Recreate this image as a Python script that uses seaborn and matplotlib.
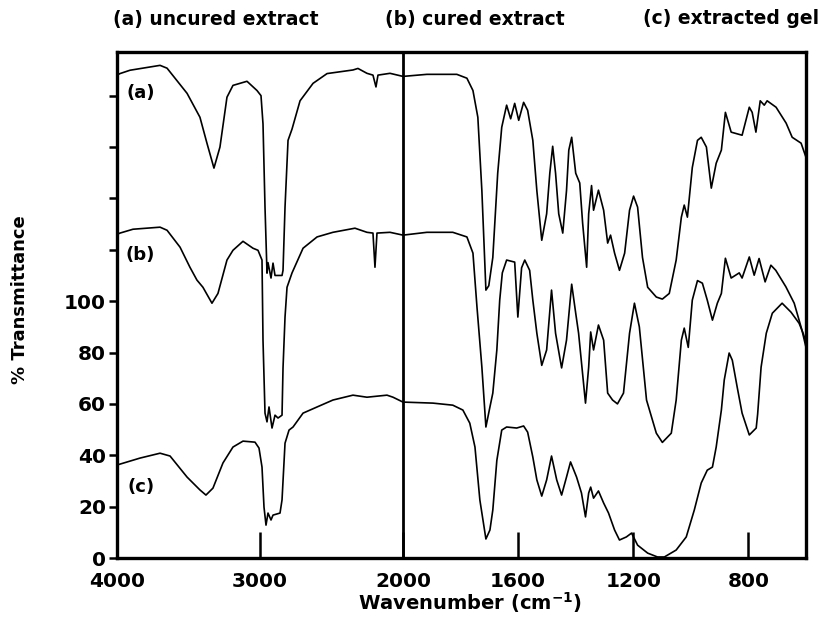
import numpy as np
import pandas as pd
import matplotlib
matplotlib.use("Agg")
import matplotlib.pyplot as plt
import seaborn as sns

# ---------------- data ----------------
a_wn = [4000, 3979, 3909, 3699, 3650, 3510, 3420, 3371, 3322, 3280, 3231, 3189, 3091, 3021,
        2993, 2979, 2965, 2951, 2944, 2923, 2909, 2895, 2846, 2839, 2825, 2804, 2776, 2720,
        2629, 2531, 2350, 2315, 2252, 2210, 2189, 2175, 2091, 2000, 1917, 1813, 1778, 1757,
        1740, 1726, 1712, 1702, 1688, 1671, 1657, 1640, 1626, 1612, 1598, 1581, 1567, 1549,
        1535, 1518, 1501, 1490, 1480, 1470, 1459, 1445, 1432, 1424, 1414, 1400, 1386, 1376,
        1362, 1355, 1345, 1338, 1321, 1303, 1289, 1279, 1265, 1248, 1230, 1213, 1199, 1185,
        1168, 1150, 1120, 1099, 1075, 1051, 1033, 1023, 1012, 995, 977, 964, 946, 929, 912,
        894, 880, 860, 822, 797, 787, 774, 759, 745, 735, 704, 669, 648, 617, 600]
a_val = [188, 188.6, 189.9, 191.8, 190.7, 180.9, 171.6, 161.5, 151.8, 160, 179.4, 184, 185.6, 182,
         180, 169, 136.6, 110.9, 115, 109, 114.8, 110, 110, 112, 136.6, 162.6, 167, 178,
         184.8, 188.6, 190, 190.6, 188.7, 188, 183.4, 188, 188.7, 187.5, 188.3, 188.3, 186.8, 182,
         171.6, 143, 104.3, 106, 117, 149.8, 167.7, 176.3, 171, 177, 170.4, 177.4, 174.3, 162.6,
         143, 123.7, 134, 149.8, 160.3, 149.8, 134, 126.5, 143, 158.8, 163.8, 149.8, 146, 130.4,
         113.2, 134, 145, 135.4, 143.2, 135.4, 122.6, 125.7, 118.7, 112, 118.7, 135.4, 140.9, 136.6,
         117, 105.4, 101.6, 100.8, 103, 116, 132.7, 137.4, 132.7, 152, 162.6, 163.8, 160, 144, 153.7,
         158.8, 173.5, 165.8, 164.6, 175.5, 173.5, 165.8, 178, 176.3, 178, 175.5, 169.3, 163.8, 161.5, 156]

b_wn = [4000, 3979, 3888, 3699, 3650, 3559, 3490, 3441, 3399, 3336, 3294, 3231, 3189, 3119,
        3049, 3014, 2986, 2979, 2965, 2951, 2937, 2916, 2895, 2874, 2846, 2839, 2825, 2811,
        2776, 2699, 2601, 2490, 2336, 2252, 2210, 2196, 2182, 2091, 2000, 1917, 1827, 1778,
        1757, 1743, 1726, 1712, 1698, 1688, 1674, 1664, 1655, 1640, 1612, 1601, 1588, 1577,
        1560, 1549, 1535, 1518, 1501, 1484, 1470, 1449, 1432, 1414, 1400, 1390, 1366, 1355,
        1348, 1338, 1321, 1303, 1289, 1272, 1255, 1234, 1213, 1196, 1179, 1154, 1120, 1099,
        1068, 1051, 1033, 1023, 1009, 995, 977, 960, 943, 925, 908, 894, 880, 860, 832, 822,
        797, 780, 763, 742, 722, 705, 670, 641, 614, 600]
b_val = [126, 126.5, 128, 128.8, 127.6, 121, 113.2, 108.2, 105.4, 99.2, 103, 116, 119.8, 123.3,
         120.6, 119.8, 116, 84.8, 56.4, 53, 58.8, 50.6, 55.6, 54.5, 55.6, 74, 93.8, 105.4,
         111, 120.6, 125, 126.8, 128.4, 126.8, 126.5, 113.2, 126.5, 126.8, 125.7, 126.8, 126.8, 125,
         118.7, 97.7, 74.3, 51, 58.8, 64.2, 81, 100.4, 111, 116, 115.2, 93.8, 113, 116,
         112, 100.4, 87.5, 75, 81, 104.3, 87.5, 74, 84.8, 106.6, 95.3, 87.5, 60.3, 74.3,
         88, 81, 90.7, 84.8, 64.2, 61.5, 60, 64.2, 87.5, 99.2, 90, 61.5, 48.6, 45,
         48.6, 61.5, 84.8, 89.5, 82, 100.4, 108, 107, 100.4, 92.6, 99.2, 103, 116.7, 109, 111, 109,
         117.2, 110.1, 116.6, 107.5, 114, 112, 105.6, 99.2, 88.7, 82]

c_wn = [4000, 3839, 3699, 3629, 3510, 3420, 3378, 3329, 3259, 3189, 3119, 3035, 3007, 2986,
        2972, 2958, 2944, 2923, 2909, 2860, 2846, 2825, 2797, 2769, 2699, 2601, 2490, 2350,
        2252, 2112, 2070, 2000, 1896, 1827, 1792, 1768, 1750, 1733, 1712, 1698, 1688, 1674,
        1657, 1640, 1605, 1581, 1567, 1549, 1535, 1518, 1501, 1484, 1466, 1449, 1432, 1418,
        1397, 1380, 1366, 1355, 1348, 1338, 1321, 1303, 1286, 1265, 1248, 1224, 1206, 1185,
        1150, 1116, 1092, 1051, 1016, 988, 964, 943, 925, 912, 894, 884, 867, 856, 839, 822,
        797, 773, 768, 756, 738, 717, 683, 652, 624, 610, 600]
c_val = [36.2, 38.9, 40.8, 39.7, 31.5, 26.5, 24.5, 27.2, 37, 43.2, 45.5, 45.1, 42.8, 35.4,
         19.8, 12.8, 17.5, 14.8, 16.7, 17.5, 22.6, 44.7, 49.8, 51, 56.4, 58.8, 61.5, 63.4,
         62.6, 63.4, 62.6, 60.7, 60.3, 59.5, 57.6, 52.5, 43.2, 22.6, 7.4, 10.9, 18.7, 38,
         49.8, 51, 50.6, 51.4, 49, 39.3, 30.4, 24.1, 30.4, 39.7, 30.4, 24.5, 31.5, 37.4,
         31.5, 25.3, 16, 25.3, 27.6, 23.3, 26.1, 21.4, 17.5, 10.9, 7, 8.2, 9.7, 5,
         1.9, 0.4, 0.4, 3.1, 8.2, 18.7, 29.2, 34.2, 35.4, 43.2, 57.6, 69.3, 79.8, 77, 66.5, 56.4,
         47.9, 50.6, 56, 74.3, 87.5, 95.3, 99.2, 95.7, 91.4, 87.5, 84]

series_labels = ["(a)", "(b)", "(c)"]
titles = ["(a) uncured extract", "(b) cured extract", "(c) extracted gel"]
x_ticks = [4000, 3000, 2000, 1600, 1200, 800]
y_ticks = [0, 20, 40, 60, 80, 100, 120, 140, 160, 180]
y_ticklabels = ["0", "20", "40", "60", "80", "100", "", "", "", ""]

# ---------------- split wavenumber scale ----------------
BREAK = 2000.0
STRETCH = 2.013

def fwd(x):
    x = np.asarray(x, dtype=float)
    return np.where(x >= BREAK, x, BREAK - (BREAK - x) * STRETCH)

def inv(u):
    u = np.asarray(u, dtype=float)
    return np.where(u >= BREAK, u, BREAK - (BREAK - u) / STRETCH)

df = pd.concat([
    pd.DataFrame({"wn": a_wn, "T": a_val, "s": "a"}),
    pd.DataFrame({"wn": b_wn, "T": b_val, "s": "b"}),
    pd.DataFrame({"wn": c_wn, "T": c_val, "s": "c"}),
], ignore_index=True)

sns.set_style("white")
plt.rcParams["font.family"] = ["DejaVu Sans"]
plt.rcParams["font.weight"] = "bold"
for k in ["text.color", "axes.labelcolor", "xtick.color", "ytick.color", "axes.edgecolor"]:
    plt.rcParams[k] = "black"

fig = plt.figure(figsize=(8.2, 6.17), dpi=100)
ax = fig.add_axes([117/820, 1-558/617, (806-117)/820, (558-52)/617])
ax.set_xscale("function", functions=(fwd, inv))

sns.lineplot(data=df, x="wn", y="T", units="s", estimator=None, sort=False,
             color="black", linewidth=1.2, ax=ax)

ax.set_xlim(4000, 600)
ax.set_ylim(0, 197)
ax.axvline(2000, color="black", linewidth=2.0)

ax.set_xticks(x_ticks)
ax.set_xticklabels([str(t) for t in x_ticks])
ax.xaxis.set_minor_locator(matplotlib.ticker.NullLocator())
ax.tick_params(axis="x", direction="in", length=19, width=1.8, pad=10,
               labelsize=14.5, bottom=True, colors="black")
ax.set_yticks(y_ticks)
ax.set_yticklabels(y_ticklabels)
ax.tick_params(axis="y", direction="out", length=6, width=1.8, pad=2,
               labelsize=14.5, left=True, colors="black")
for lab in ax.get_xticklabels() + ax.get_yticklabels():
    lab.set_fontweight("bold")

for sp in ax.spines.values():
    sp.set_linewidth(2.4)
    sp.set_color("black")

ax.set_xlabel("")
ax.set_ylabel("")

label_pos = [(3835, 181), (3835, 118), (3835, 27.5)]
for lab, (xw, yv) in zip(series_labels, label_pos):
    ax.text(xw, yv, lab, fontsize=13, fontweight="bold", ha="center", va="center",
            color="black")

title_x = [113, 385, 643]
for t, xp in zip(titles, title_x):
    fig.text(xp/820, 1-19/617, t, fontsize=13.5, fontweight="bold", ha="left",
             va="center", color="black")

fig.text(20/820, 1-300/617, "% Transmittance", rotation=90, fontsize=13,
         fontweight="bold", ha="center", va="center", color="black")
fig.text(470/820, 1-603/617, "Wavenumber (cm$^{-1}$)", fontsize=14,
         fontweight="bold", ha="center", va="center", color="black")

fig.savefig("out.png", dpi=100)
